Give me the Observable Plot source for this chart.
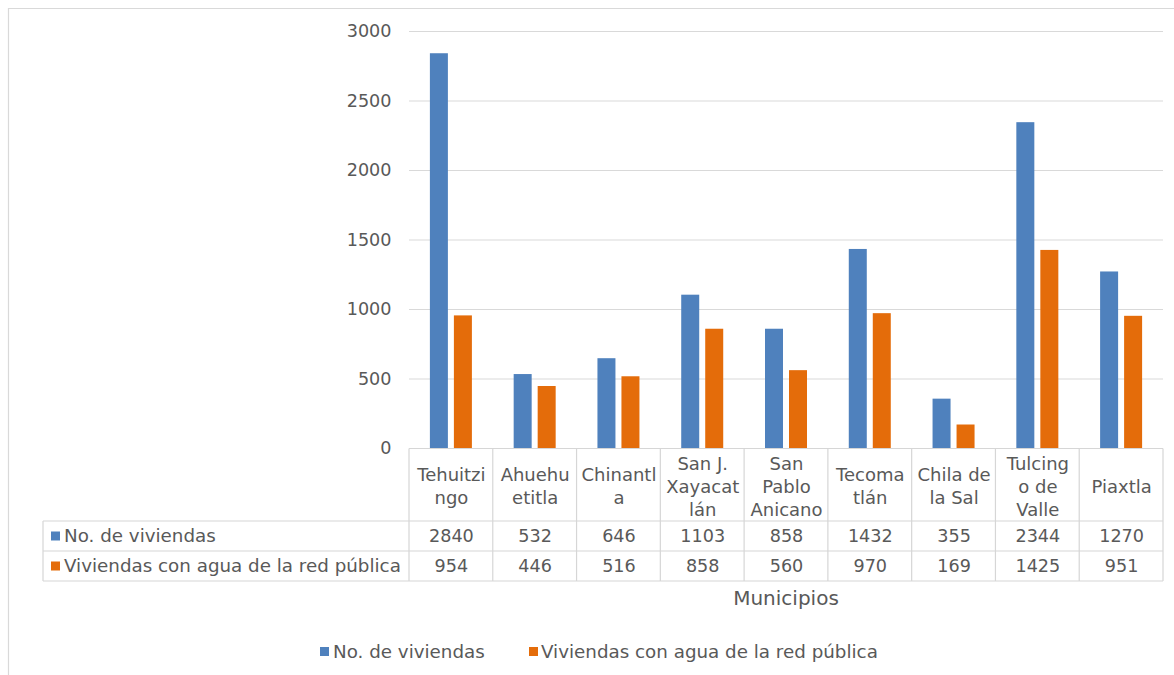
<!DOCTYPE html>
<html><head><meta charset="utf-8">
<script src="https://cdn.jsdelivr.net/npm/d3@7"></script>
<script src="https://cdn.jsdelivr.net/npm/@observablehq/plot@0.6"></script>
<style>
body{margin:0;background:#fff;}
#chart{position:relative;width:1174px;height:675px;}
</style>
</head><body><div id="chart"></div>
<script>
const categories = ["Tehuitzingo","Ahuehuetitla","Chinantla","San J. Xayacatlán","San Pablo Anicano","Tecomatlán","Chila de la Sal","Tulcingo de Valle","Piaxtla"];
const headerLabels = ["Tehuitzi\nngo","Ahuehu\netitla","Chinantl\na","San J.\nXayacat\nlán","San\nPablo\nAnicano","Tecoma\ntlán","Chila de\nla Sal","Tulcing\no de\nValle","Piaxtla"];
const seriesNames = ["No. de viviendas","Viviendas con agua de la red pública"];
const noViviendas = [2840,532,646,1103,858,1432,355,2344,1270];
const conAgua = [954,446,516,858,560,970,169,1425,951];
const yTicks = [0,500,1000,1500,2000,2500,3000];
const xTitle = "Municipios";
const colors = ["#4f81bd","#e46c0a"];

(function () {
const W = 1174, H = 675, frameL = 409, frameR = 1163, frameT = 31, frameB = 448;
const step = (frameR - frameL) / categories.length, barW = 18, gap = 6;
const off = (step - 2 * barW - gap) / 2;
const font = "'DejaVu Sans', Verdana, sans-serif";
const txt = "#595959", lineCol = "#d6d6d6";

const rows = categories.map((c, i) => ({cat: c, header: headerLabels[i], a: noViviendas[i], b: conAgua[i]}));

const plot = Plot.plot({
  width: W, height: H,
  marginLeft: frameL, marginRight: W - frameR, marginTop: frameT, marginBottom: H - frameB,
  style: {fontFamily: font, fontSize: "17.6px", color: txt, background: "transparent", overflow: "visible"},
  x: {domain: categories, paddingInner: 0, paddingOuter: 0, round: false, axis: null},
  y: {domain: [0, 3000], ticks: yTicks, tickSize: 0, tickPadding: 18, label: null, tickFormat: d => String(d)},
  marks: [
    Plot.ruleY(yTicks, {stroke: "#d9d9d9", strokeWidth: 1}),
    Plot.barY(rows, {x: "cat", y: "a", fill: colors[0], insetLeft: off, insetRight: step - off - barW}),
    Plot.barY(rows, {x: "cat", y: "b", fill: colors[1], insetLeft: off + barW + gap, insetRight: off}),
    Plot.text(rows, {x: "cat", y: () => 0, text: "header", dy: 37, fontSize: 18, lineHeight: 1.28, lineAnchor: "middle", fill: txt}),
    Plot.text(rows, {x: "cat", y: () => 0, text: d => String(d.a), dy: 88, lineAnchor: "middle", fill: txt}),
    Plot.text(rows, {x: "cat", y: () => 0, text: d => String(d.b), dy: 118, lineAnchor: "middle", fill: txt})
  ]
});

document.getElementById("chart").appendChild(plot);

const svg = d3.select(plot);
const xs = plot.scale("x");
const edges = categories.map((c, i) => (xs && xs.apply) ? xs.apply(c) : frameL + i * step);
const st = (xs && xs.step) ? xs.step : step;
edges.push(edges[edges.length - 1] + st);

const g = svg.append("g").attr("fill", "none").attr("stroke", lineCol).attr("stroke-width", 1.2);
g.append("path").attr("d", `M8.5,${H} V8.5 H${W}`).attr("stroke", "#d9d9d9");
const yHead = 448.5, yR1 = 521, yR2 = 551, yEnd = 581, xLab = 43;
const xEnd = edges[edges.length - 1];
g.append("line").attr("x1", edges[0]).attr("x2", xEnd).attr("y1", yHead).attr("y2", yHead);
[yR1, yR2, yEnd].forEach(y => g.append("line").attr("x1", xLab).attr("x2", xEnd).attr("y1", y).attr("y2", y));
edges.forEach(x => g.append("line").attr("x1", x).attr("x2", x).attr("y1", yHead).attr("y2", yEnd));
g.append("line").attr("x1", xLab).attr("x2", xLab).attr("y1", yR1).attr("y2", yEnd);

const lab = svg.append("g").attr("font-family", font).attr("font-size", "18.3px").attr("fill", txt).attr("text-anchor", "start");
[[yR1, yR2], [yR2, yEnd]].forEach(([a, b], i) => {
  const cy = (a + b) / 2;
  lab.append("rect").attr("x", 51).attr("y", cy - 4.5).attr("width", 9).attr("height", 9).attr("fill", colors[i]);
  lab.append("text").attr("x", 64).attr("y", cy).attr("dy", "0.35em").text(seriesNames[i]);
});

svg.append("text").attr("x", (edges[0] + xEnd) / 2).attr("y", 598).attr("dy", "0.35em")
  .attr("text-anchor", "middle").attr("font-family", font).attr("font-size", "20px").attr("fill", txt).text(xTitle);

const leg = svg.append("g").attr("font-family", font).attr("font-size", "18.3px").attr("fill", txt).attr("text-anchor", "start");
[[320, 333], [529, 541]].forEach(([sx, tx], i) => {
  leg.append("rect").attr("x", sx).attr("y", 647).attr("width", 9).attr("height", 9).attr("fill", colors[i]);
  leg.append("text").attr("x", tx).attr("y", 652).attr("dy", "0.35em").text(seriesNames[i]);
});
})();
</script>
</body></html>
